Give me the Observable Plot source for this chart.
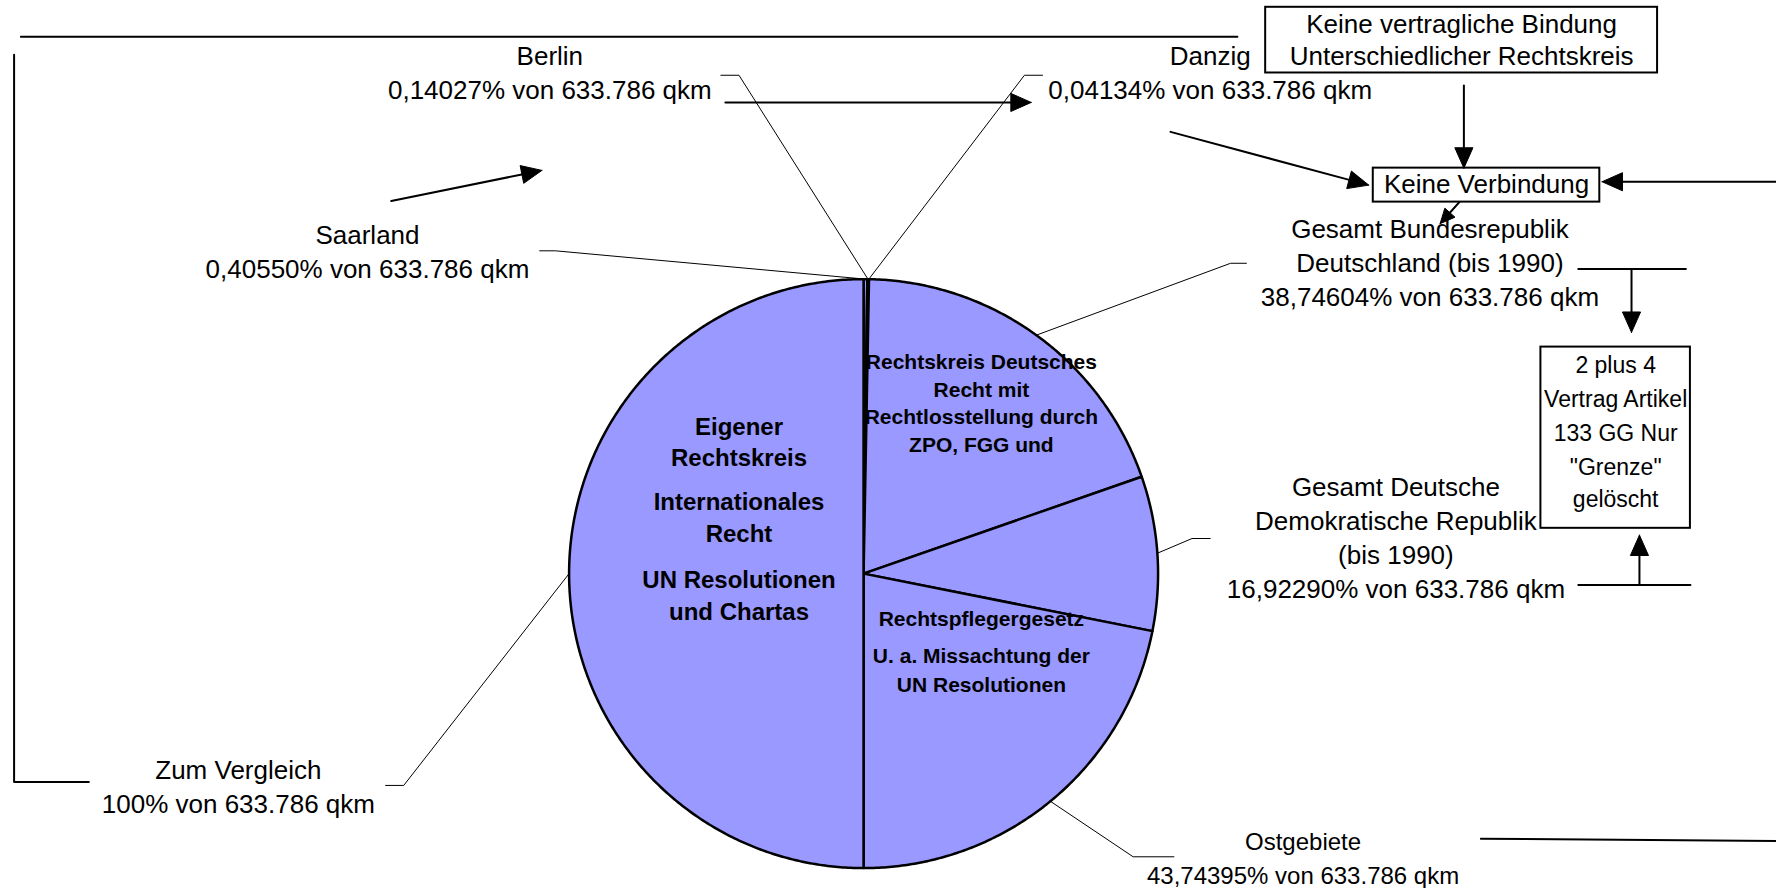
<!DOCTYPE html>
<html><head><meta charset="utf-8">
<script src="https://cdn.jsdelivr.net/npm/d3@7"></script>
<script src="https://cdn.jsdelivr.net/npm/@observablehq/plot@0.6"></script>
<style>body{margin:0;background:#fff}</style>
</head><body><div id="chart"></div>
<script>
// ---- data ----
const sliceNames = ["Saarland","Berlin","Danzig","Gesamt Bundesrepublik Deutschland (bis 1990)","Gesamt Deutsche Demokratische Republik (bis 1990)","Ostgebiete","Zum Vergleich"];
const sliceValues = [0.40550, 0.14027, 0.04134, 38.74604, 16.92290, 43.74395, 100];
const sliceLabelText = [
  ["Saarland","0,40550% von 633.786 qkm"],
  ["Berlin","0,14027% von 633.786 qkm"],
  ["Danzig","0,04134% von 633.786 qkm"],
  ["Gesamt Bundesrepublik","Deutschland (bis 1990)","38,74604% von 633.786 qkm"],
  ["Gesamt Deutsche","Demokratische Republik","(bis 1990)","16,92290% von 633.786 qkm"],
  ["Ostgebiete","43,74395% von 633.786 qkm"],
  ["Zum Vergleich","100% von 633.786 qkm"]
];
const insideText = [
  {lines:["Eigener","Rechtskreis","Internationales","Recht","UN Resolutionen","und Chartas"], ys:[377,404,443,471,512,540], x:652, size:24},
  {lines:["Rechtskreis Deutsches","Recht mit","Rechtlosstellung durch","ZPO, FGG und"], ys:[319,344,368,393], x:866, size:21},
  {lines:["Rechtspflegergesetz","U. a. Missachtung der","UN Resolutionen"], ys:[546,579,605], x:866, size:21}
];
const boxTexts = [
  {lines:["Keine vertragliche Bindung","Unterschiedlicher Rechtskreis"], x:1290, ys:[21,50], box:[1117,1463,6,64], size:26},
  {lines:["Keine Verbindung"], x:1312, ys:[163], box:[1212,1412,148,178], size:26},
  {lines:["2 plus 4","Vertrag Artikel","133 GG Nur","\"Grenze\"","gelöscht"], x:1426, ys:[322,352,382,412,441], box:[1360,1492,306,466], size:23}
];

// ---- layout (in layout units: 1568 x 784 grid stretched to the 1776 x 888 svg) ----
const W = 1776, H = 888, LW = 1568, LH = 784;
const cx = 762, cy = 506, R = 260;
const labelLayout = [ // x center, first line y, leader elbow points, font size
  {x:324, y:208, leader:[[476,221],[490,221]], size:26},
  {x:485, y:50,  leader:[[636,66],[652,66]], size:26},
  {x:1068,y:50,  leader:[[920,66],[904,66]], size:26},
  {x:1262,y:202, leader:[[1100,232],[1086,232]], size:26},
  {x:1232,y:430, leader:[[1068,475],[1052,475]], size:26},
  {x:1150,y:743, leader:[[1036,756],[1000,756]], size:24},
  {x:210, y:680, leader:[[340,693],[356,693]], size:26}
];
const lineStep = 30;
const arrows = [
  {x1:640,y1:90,x2:910,y2:90,L:18,w:8},
  {x1:345,y1:177,x2:478,y2:150,L:18,w:8},
  {x1:1033,y1:116,x2:1208,y2:163,L:18,w:8},
  {x1:1292,y1:75,x2:1292,y2:148,L:18,w:8},
  {x1:1568,y1:160,x2:1414,y2:160,L:18,w:8},
  {x1:1288,y1:178,x2:1271,y2:197,L:13,w:6},
  {x1:1440,y1:237,x2:1440,y2:293,L:18,w:8},
  {x1:1447,y1:516,x2:1447,y2:472,L:18,w:8}
];
const plainLines = [
  [[18,32],[1092,32]],
  [[12,48],[12,690],[78,690]],
  [[1393,237],[1488,237]],
  [[1393,516],[1492,516]],
  [[1307,740],[1568,742]]
];

// ---- derived geometry ----
const total = d3.sum(sliceValues);
let acc = 0;
const slices = sliceNames.map((name, i) => {
  const a0 = acc / total * 2 * Math.PI; acc += sliceValues[i];
  const a1 = acc / total * 2 * Math.PI;
  return {name, a0, a1, mid: (a0 + a1) / 2};
});
const piePts = slices.flatMap(s => {
  const n = Math.max(1, Math.ceil((s.a1 - s.a0) / (Math.PI / 360)));
  const pts = [{name: s.name, x: cx, y: cy}];
  for (let k = 0; k <= n; k++) {
    const a = s.a0 + (s.a1 - s.a0) * k / n;
    pts.push({name: s.name, x: cx + R * Math.sin(a), y: cy - R * Math.cos(a)});
  }
  pts.push({name: s.name, x: cx, y: cy});
  return pts;
});
const leaderPts = slices.flatMap((s, i) => {
  const lay = labelLayout[i];
  const p = lay.leader.map(([x, y]) => ({id: i, x, y}));
  p.push({id: i, x: cx + R * Math.sin(s.mid), y: cy - R * Math.cos(s.mid)});
  return p;
});
const labelRows = slices.flatMap((s, i) => sliceLabelText[i].map((t, j) => ({text: t, x: labelLayout[i].x, y: labelLayout[i].y + j * lineStep, size: labelLayout[i].size})));
const insideRows = insideText.flatMap(b => b.lines.map((t, j) => ({text: t, x: b.x, y: b.ys[j], size: b.size})));
const boxRows = boxTexts.map(b => ({x1: b.box[0], x2: b.box[1], y1: b.box[2], y2: b.box[3]}));
const boxTextRows = boxTexts.flatMap(b => b.lines.map((t, j) => ({text: t, x: b.x, y: b.ys[j], size: b.size})));
const shaftPts = [], headPts = [];
arrows.forEach((a, i) => {
  const dx = a.x2 - a.x1, dy = a.y2 - a.y1, len = Math.hypot(dx, dy);
  const ux = dx / len, uy = dy / len, px = -uy, py = ux;
  const bx = a.x2 - a.L * ux, by = a.y2 - a.L * uy;
  shaftPts.push({id: i, x: a.x1, y: a.y1}, {id: i, x: bx + ux, y: by + uy});
  headPts.push({id: i, x: a.x2, y: a.y2}, {id: i, x: bx + a.w * px, y: by + a.w * py}, {id: i, x: bx - a.w * px, y: by - a.w * py}, {id: i, x: a.x2, y: a.y2});
});
const plainPts = plainLines.flatMap((l, i) => l.map(([x, y]) => ({id: i, x, y})));

const font = "Liberation Sans, Arial, Helvetica, sans-serif";
const chart = Plot.plot({
  width: W, height: H, margin: 0,
  x: {domain: [0, LW], range: [0, W], axis: null},
  y: {domain: [0, LH], range: [0, H], axis: null},
  style: {fontFamily: font, background: "white"},
  marks: [
    Plot.line(piePts, {x: "x", y: "y", z: "name", fill: "#9999ff", stroke: "black", strokeWidth: 2.5, strokeLinejoin: "round"}),
    Plot.line(leaderPts, {x: "x", y: "y", z: "id", stroke: "black", strokeWidth: 1}),
    Plot.text(insideRows, {x: "x", y: "y", text: "text", fontSize: d => d.size, fontWeight: "bold", fill: "black", textAnchor: "middle", lineAnchor: "middle"}),
    Plot.text(labelRows, {x: "x", y: "y", text: "text", fontSize: d => d.size, fill: "black", textAnchor: "middle", lineAnchor: "middle"}),
    Plot.line(plainPts, {x: "x", y: "y", z: "id", stroke: "black", strokeWidth: 2}),
    Plot.rect(boxRows, {x1: "x1", x2: "x2", y1: "y1", y2: "y2", fill: "white", stroke: "black", strokeWidth: 2}),
    Plot.text(boxTextRows, {x: "x", y: "y", text: "text", fontSize: d => d.size, fill: "black", textAnchor: "middle", lineAnchor: "middle"}),
    Plot.line(shaftPts, {x: "x", y: "y", z: "id", stroke: "black", strokeWidth: 2}),
    Plot.line(headPts, {x: "x", y: "y", z: "id", fill: "black", stroke: "black", strokeWidth: 1})
  ]
});
document.getElementById("chart").appendChild(chart);
</script>
</body></html>
